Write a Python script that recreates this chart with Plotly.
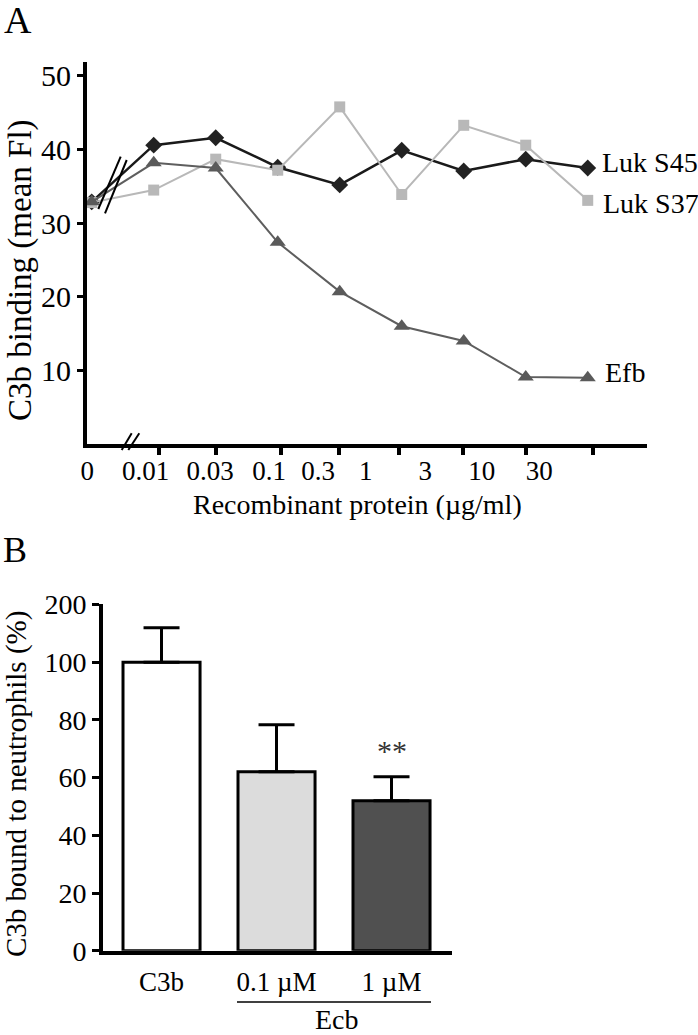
import plotly.graph_objects as go

# ---------------- Panel A data ----------------
concentrations = ["0", "0.01", "0.03", "0.1", "0.3", "1", "3", "10", "30"]
luk_s45 = [32.9, 40.6, 41.6, 37.6, 35.2, 39.9, 37.1, 38.7, 37.5]
luk_s37 = [32.8, 34.5, 38.7, 37.2, 45.8, 33.9, 43.3, 40.6, 33.1]
efb = [32.9, 38.2, 37.5, 27.4, 20.7, 16.0, 14.0, 9.1, 9.0]
y_ticks_a = [10, 20, 30, 40, 50]

# ---------------- Panel B data ----------------
groups = ["C3b", "0.1 µM", "1 µM"]
binding_pct = [100, 62, 52]
binding_err = [12, 16.3, 8.3]
bar_colors = ["#ffffff", "#dcdcdc", "#505050"]
y_ticks_b = [0, 20, 40, 60, 80, 100, 120]
y_ticktext_b = ["0", "20", "40", "60", "80", "100", "200"]

W, H = 698, 1035
FONT = "Liberation Serif, Times New Roman, serif"

def px(x):
    return x / W

def py(y):
    return 1 - y / H

xpos = list(range(len(concentrations)))

fig = go.Figure()

fig.add_trace(go.Scatter(
    x=xpos, y=luk_s45, mode="lines+markers", name="Luk S45",
    line=dict(color="#1a1a1a", width=2.5),
    marker=dict(symbol="diamond", size=13, color="#222222"),
    xaxis="x", yaxis="y"))
fig.add_trace(go.Scatter(
    x=xpos, y=luk_s37, mode="lines+markers", name="Luk S37",
    line=dict(color="#b8b8b8", width=2),
    marker=dict(symbol="square", size=11, color="#b8b8b8"),
    xaxis="x", yaxis="y"))
fig.add_trace(go.Scatter(
    x=xpos, y=efb, mode="lines+markers", name="Efb",
    line=dict(color="#5e5e5e", width=2),
    marker=dict(symbol="triangle-up", size=14, color="#5a5a5a"),
    xaxis="x", yaxis="y"))

fig.add_trace(go.Bar(
    x=list(range(len(groups))), y=binding_pct,
    marker=dict(color=bar_colors, line=dict(color="black", width=3)),
    width=0.67,
    error_y=dict(type="data", array=binding_err, arrayminus=[0] * len(groups),
                 symmetric=False, color="black", thickness=3, width=18),
    xaxis="x2", yaxis="y2", showlegend=False))

label_pos = [-0.07, 0.87, 1.91, 2.86, 3.65, 4.42, 5.38, 6.29, 7.22]
tick_pos = [1.085, 2.005, 3.05, 3.99, 4.96, 5.99, 7.0, 8.09]

fig.update_layout(
    width=W, height=H, autosize=False,
    margin=dict(l=0, r=0, t=0, b=0, pad=0, autoexpand=False),
    paper_bgcolor="white", plot_bgcolor="white",
    showlegend=False,
    font=dict(family=FONT, size=28, color="black"),
    xaxis=dict(
        domain=[px(87), px(647)], range=[-0.076, 8.956],
        anchor="y", showgrid=False, zeroline=False, automargin=False,
        showline=True, linecolor="black", linewidth=4,
        tickmode="array", tickvals=label_pos, ticktext=concentrations,
        ticks="", ticklabelstandoff=0,
        tickfont=dict(family=FONT, size=27),
        minor=dict(tickmode="array", tickvals=tick_pos, ticks="outside",
                   ticklen=7, tickwidth=4, tickcolor="black", showgrid=False),
    ),
    yaxis=dict(
        domain=[py(444), py(62)], range=[0, 51.9],
        anchor="x", showgrid=False, zeroline=False, automargin=False,
        showline=True, linecolor="black", linewidth=4,
        tickmode="array", tickvals=y_ticks_a,
        ticks="outside", ticklen=6, tickwidth=3, tickcolor="black",
        tickfont=dict(family=FONT, size=30),
    ),
    xaxis2=dict(
        domain=[px(103), px(452)], range=[-0.509, 2.526],
        anchor="y2", showgrid=False, zeroline=False, automargin=False,
        showline=True, linecolor="black", linewidth=4,
        tickmode="array", tickvals=list(range(len(groups))), ticktext=groups,
        ticks="", ticklabelstandoff=4,
        tickfont=dict(family=FONT, size=27),
    ),
    yaxis2=dict(
        domain=[py(950.7), py(604)], range=[0, 120.2],
        anchor="x2", showgrid=False, zeroline=False, automargin=False,
        showline=True, linecolor="black", linewidth=4,
        tickmode="array", tickvals=y_ticks_b, ticktext=y_ticktext_b,
        ticks="outside", ticklen=7, tickwidth=3, tickcolor="black",
        tickfont=dict(family=FONT, size=28),
    ),
)

def label(text, x, y, size=28, color="black", angle=0, xa="center", ya="middle"):
    return dict(text=text, x=px(x), y=py(y), xref="paper", yref="paper",
                xanchor=xa, yanchor=ya, textangle=angle, showarrow=False,
                font=dict(family=FONT, size=size, color=color))

ann = [
    label("A", 18, 20, size=38),
    label("B", 15, 550, size=36),
    label("C3b binding (mean Fl)", 20, 270, size=33, angle=-90),
    label("Recombinant protein (µg/ml)", 357, 505),
    label("C3b bound to neutrophils (%)", 16, 784, size=29, angle=-90),
    label("Luk S45", 600, 163, xa="left"),
    label("Luk S37", 601, 203, xa="left"),
    label("Efb", 603, 372, xa="left"),
    label("**", 392, 750, size=30, color="#333333"),
    label("Ecb", 337, 1019),
]
fig.update_layout(annotations=ann)

shapes = []
def seg(x0, y0, x1, y1, w=2, color="black"):
    shapes.append(dict(type="line", xref="paper", yref="paper",
                       x0=px(x0), y0=py(y0), x1=px(x1), y1=py(y1),
                       line=dict(color=color, width=w)))
# break marks on the lines
seg(98.3, 209, 120.7, 156.7)
seg(105, 213.3, 126.7, 160)
# break marks on the x axis
seg(121.7, 450, 131.7, 433.3)
seg(128.3, 450, 139.3, 433.3)
# bracket under Ecb groups
seg(237, 1002, 431, 1002, 1.5)
fig.update_layout(shapes=shapes)

fig.write_html("out.html",
               config={"displayModeBar": False},
               post_script="document.body.style.margin='0';document.body.style.overflow='hidden';")
